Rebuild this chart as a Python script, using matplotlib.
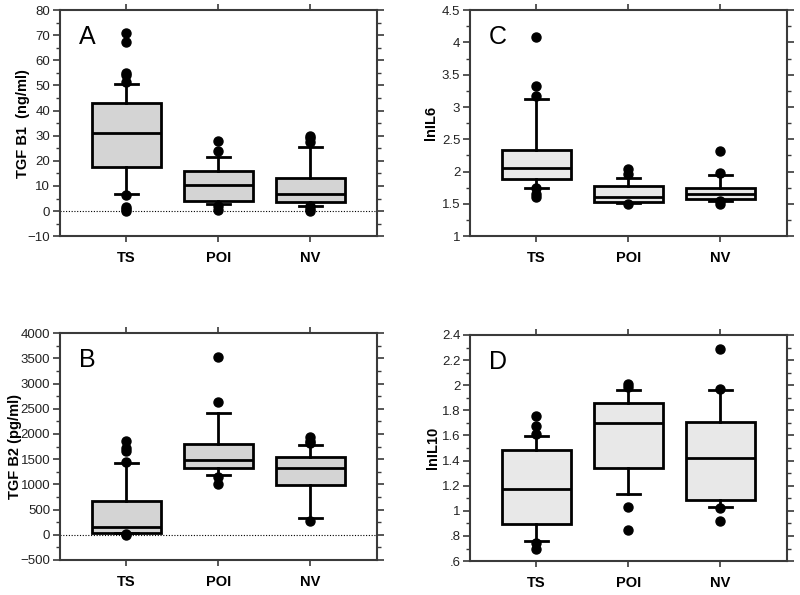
import matplotlib
matplotlib.use("Agg")
import matplotlib.pyplot as plt
from matplotlib.ticker import MultipleLocator, FixedLocator, FuncFormatter

plt.rcParams['font.family'] = ['Liberation Sans', 'DejaVu Sans']

groups = ["TS", "POI", "NV"]

# Panel A: TGF B1 (ng/ml)
a_q1 = [17.5, 4.0, 3.5]
a_med = [31.0, 10.3, 7.0]
a_q3 = [43.0, 16.0, 13.0]
a_wlo = [7.0, 3.0, 2.0]
a_whi = [50.5, 21.5, 25.5]
a_fl = [[71, 67.5, 55, 54, 51.5, 6.5, 1.5, 0.8, 0.2],
        [28, 24, 2, 0.3],
        [30, 29, 27.5, 2, 1, 0.2]]

# Panel B: TGF B2 (pg/ml)
b_q1 = [43, 1333, 989]
b_med = [149, 1485, 1320]
b_q3 = [678, 1803, 1552]
b_wlo = [29, 1188, 327]
b_whi = [1432, 2412, 1783]
b_fl = [[1869, 1730, 1664, 1452, 10, -5],
        [3524, 2644, 1155, 1009],
        [1949, 1869, 1816, 274]]

# Panel C: lnIL6
c_q1 = [1.88, 1.53, 1.57]
c_med = [2.06, 1.61, 1.66]
c_q3 = [2.33, 1.78, 1.74]
c_wlo = [1.75, 1.51, 1.55]
c_whi = [3.12, 1.90, 1.94]
c_fl = [[4.09, 3.32, 3.17, 1.75, 1.66, 1.60],
        [2.04, 1.97, 1.50],
        [2.32, 1.98, 1.54, 1.50]]

# Panel D: lnIL10
d_q1 = [0.892, 1.341, 1.089]
d_med = [1.176, 1.697, 1.418]
d_q3 = [1.484, 1.858, 1.710]
d_wlo = [0.759, 1.136, 1.033]
d_whi = [1.593, 1.959, 1.959]
d_fl = [[1.755, 1.678, 1.609, 0.741, 0.696],
        [2.007, 1.986, 1.03, 0.844],
        [2.289, 1.967, 1.02, 0.919]]

fig = plt.figure(figsize=(8.0, 5.95), dpi=100)

spine_col = "#3a3a3a"


def stats(q1, med, q3, wlo, whi, fl):
    out = []
    for i in range(len(groups)):
        out.append(dict(q1=q1[i], med=med[i], q3=q3[i], whislo=wlo[i],
                        whishi=whi[i], fliers=fl[i], label=groups[i]))
    return out


def panel(rect, st, face, ylim, major, minor, ylabel, letter, labx,
          fmt=None, zero=False):
    ax = fig.add_axes(rect)
    ax.bxp(st, positions=[1, 2, 3], widths=0.75, patch_artist=True,
           showfliers=True,
           boxprops=dict(facecolor=face, edgecolor="black", linewidth=2.0),
           medianprops=dict(color="black", linewidth=2.0),
           whiskerprops=dict(color="black", linewidth=2.0),
           capprops=dict(color="black", linewidth=2.0),
           capwidths=0.25,
           flierprops=dict(marker="o", markerfacecolor="black",
                           markeredgecolor="black", markersize=6.5))
    if zero:
        ax.axhline(0, color="black", linestyle=(0, (1, 1.5)), linewidth=0.8, zorder=0)
    ax.set_xlim(0.28, 3.72)
    ax.set_ylim(*ylim)
    ax.yaxis.set_major_locator(MultipleLocator(major))
    ax.yaxis.set_minor_locator(MultipleLocator(minor))
    if fmt is not None:
        ax.yaxis.set_major_formatter(FuncFormatter(fmt))
    ax.xaxis.set_major_locator(FixedLocator([1, 2, 3]))
    ax.set_xticklabels(groups, fontweight="bold", fontsize=10.5)
    ax.tick_params(axis="x", which="major", direction="out", length=4,
                   width=1.2, color=spine_col, pad=7, top=True, labeltop=False)
    ax.tick_params(axis="y", which="major", direction="out", length=5,
                   width=1.2, color=spine_col, labelsize=9.5, right=True, pad=2)
    ax.tick_params(axis="y", which="minor", direction="out", length=3,
                   width=1.0, color=spine_col, right=True)
    for tl in ax.get_yticklabels():
        tl.set_color("#222222")
    for s in ax.spines.values():
        s.set_color(spine_col)
        s.set_linewidth(1.5)
    ax.set_ylabel(ylabel, fontweight="bold", fontsize=10.5)
    ax.yaxis.set_label_coords(labx, 0.5)
    ax.text(0.06, 0.935, letter, transform=ax.transAxes, fontsize=18,
            va="top", ha="left")
    return ax


def dot_fmt(v, pos):
    s = f"{v:.1f}".rstrip("0").rstrip(".")
    if s.startswith("0."):
        s = s[1:]
    return s


def half_fmt(v, pos):
    return f"{v:.1f}".rstrip("0").rstrip(".")


panel([0.075, 0.603, 0.396, 0.380], stats(a_q1, a_med, a_q3, a_wlo, a_whi, a_fl),
      "#d4d4d4", (-10, 80), 10, 5, "TGF B1  (ng/ml)", "A", -0.095, zero=True)
panel([0.5875, 0.603, 0.396, 0.380], stats(c_q1, c_med, c_q3, c_wlo, c_whi, c_fl),
      "#e8e8e8", (1, 4.5), 0.5, 0.25, "lnIL6", "C", -0.10, fmt=half_fmt)
panel([0.075, 0.059, 0.396, 0.381], stats(b_q1, b_med, b_q3, b_wlo, b_whi, b_fl),
      "#d4d4d4", (-500, 4000), 500, 250, "TGF B2 (pg/ml)", "B", -0.12, zero=True)
panel([0.5875, 0.057, 0.396, 0.380], stats(d_q1, d_med, d_q3, d_wlo, d_whi, d_fl),
      "#e8e8e8", (0.6, 2.4), 0.2, 0.1, "lnIL10", "D", -0.095, fmt=dot_fmt)

fig.savefig("out.png", dpi=100)
